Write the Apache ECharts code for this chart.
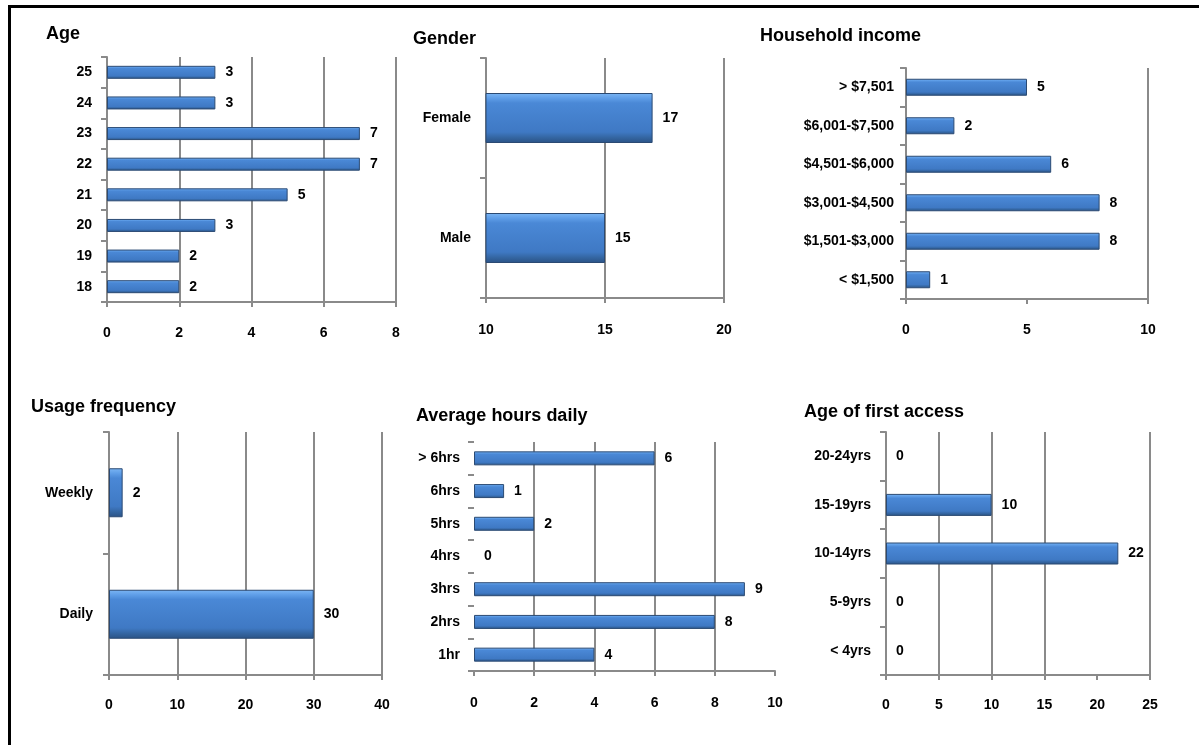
<!DOCTYPE html>
<html>
<head>
<meta charset="utf-8">
<script src="https://cdn.jsdelivr.net/npm/echarts@6/dist/echarts.min.js"></script>
<style>
html,body{margin:0;padding:0;background:#fff;}
#chart{position:absolute;left:0;top:0;width:1199px;height:745px;}
#frame{position:absolute;left:8px;top:5px;width:1191px;height:740px;border-top:3px solid #000;border-left:3px solid #000;box-sizing:border-box;pointer-events:none;}
</style>
</head>
<body>
<div id="chart"></div>
<div id="frame"></div>
<script>
// ---- data ----
const titles = ['Age', 'Gender', 'Household income', 'Usage frequency', 'Average hours daily', 'Age of first access'];

const ageCats = ['18', '19', '20', '21', '22', '23', '24', '25'];
const ageVals = [2, 2, 3, 5, 7, 7, 3, 3];
const ageTicks = [0, 8, 2];          // min, max, interval
const ageGrid = [2, 4, 6, 8];

const genderCats = ['Male', 'Female'];
const genderVals = [15, 17];
const genderTicks = [10, 20, 5];
const genderGrid = [15, 20];

const incomeCats = ['< $1,500', '$1,501-$3,000', '$3,001-$4,500', '$4,501-$6,000', '$6,001-$7,500', '> $7,501'];
const incomeVals = [1, 8, 8, 6, 2, 5];
const incomeTicks = [0, 10, 5];
const incomeGrid = [10];

const usageCats = ['Daily', 'Weekly'];
const usageVals = [30, 2];
const usageTicks = [0, 40, 10];
const usageGrid = [10, 20, 30, 40];

const hoursCats = ['1hr', '2hrs', '3hrs', '4hrs', '5hrs', '6hrs', '> 6hrs'];
const hoursVals = [4, 8, 9, 0, 2, 1, 6];
const hoursTicks = [0, 10, 2];
const hoursGrid = [2, 4, 6, 8];

const firstCats = ['< 4yrs', '5-9yrs', '10-14yrs', '15-19yrs', '20-24yrs'];
const firstVals = [0, 0, 22, 10, 0];
const firstTicks = [0, 25, 5];
const firstGrid = [5, 10, 15, 25];

// ---- layout (positions / styles) ----
const layouts = [
  {left:107, top:57, width:289, height:245, barW:13, xMargin:24, yMargin:15, tx:41, ty:20, showYLine:true},
  {left:486, top:58, width:238, height:240, barW:50, xMargin:25, yMargin:15, tx:408, ty:25, showYLine:true},
  {left:906, top:68, width:242, height:231, barW:17, xMargin:24, yMargin:12, tx:755, ty:22, showYLine:true},
  {left:109, top:432, width:273, height:243, barW:49, xMargin:23, yMargin:16, tx:26, ty:393, showYLine:true},
  {left:474, top:442, width:301, height:229, barW:14, xMargin:25, yMargin:14, tx:411, ty:402, showYLine:false},
  {left:886, top:432, width:264, height:243, barW:22, xMargin:23, yMargin:15, tx:799, ty:398, showYLine:true}
];

const panels = [
  [ageCats, ageVals, ageTicks, ageGrid],
  [genderCats, genderVals, genderTicks, genderGrid],
  [incomeCats, incomeVals, incomeTicks, incomeGrid],
  [usageCats, usageVals, usageTicks, usageGrid],
  [hoursCats, hoursVals, hoursTicks, hoursGrid],
  [firstCats, firstVals, firstTicks, firstGrid]
];

const FONT = 'Liberation Sans';
const GRAY = '#8a8a8a';
const barColor = {
  type: 'linear', x: 0, y: 0, x2: 0, y2: 1,
  colorStops: [
    {offset: 0, color: '#7cb6f4'},
    {offset: 0.1, color: '#609fe8'},
    {offset: 0.2, color: '#4a88d6'},
    {offset: 0.78, color: '#3f79c4'},
    {offset: 0.9, color: '#33649f'},
    {offset: 1, color: '#2b5285'}
  ]
};

const option = {
  animation: false,
  backgroundColor: '#fff',
  title: [], grid: [], xAxis: [], yAxis: [], series: []
};

panels.forEach((p, i) => {
  const [cats, vals, ticks, gl] = p;
  const L = layouts[i];
  option.title.push({
    text: titles[i], left: L.tx, top: L.ty,
    textStyle: {fontFamily: FONT, fontWeight: 'bold', fontSize: 18, color: '#000'}
  });
  option.grid.push({left: L.left, top: L.top, width: L.width, height: L.height, containLabel: false});
  option.xAxis.push({
    type: 'value', gridIndex: i, min: ticks[0], max: ticks[1], interval: ticks[2],
    axisLine: {show: true, lineStyle: {color: GRAY, width: 2}},
    axisTick: {show: true, length: 5, lineStyle: {color: GRAY, width: 2}},
    splitLine: {show: false},
    axisLabel: {margin: L.xMargin, fontFamily: FONT, fontWeight: 'bold', fontSize: 14, color: '#000'}
  });
  option.yAxis.push({
    type: 'category', gridIndex: i, data: cats,
    axisLine: {show: L.showYLine, onZero: false, lineStyle: {color: GRAY, width: 2}},
    axisTick: {show: true, length: 6, lineStyle: {color: GRAY, width: 2}},
    axisLabel: {margin: L.yMargin, fontFamily: FONT, fontWeight: 'bold', fontSize: 14, color: '#000'}
  });
  option.series.push({
    type: 'bar', xAxisIndex: i, yAxisIndex: i,
    data: vals.map(v => v === 0 ? {value: v, itemStyle: {borderWidth: 0, borderColor: 'rgba(0,0,0,0)'}} : v),
    barWidth: L.barW,
    clip: true,
    itemStyle: {color: barColor, borderColor: '#2b4a73', borderWidth: 1},
    label: {show: true, position: 'right', distance: 10, fontFamily: FONT, fontWeight: 'bold', fontSize: 14, color: '#000'},
    markLine: {
      silent: true, symbol: 'none', z: 1, animation: false,
      label: {show: false},
      lineStyle: {color: GRAY, width: 2, type: 'solid'},
      data: gl.map(v => ({xAxis: v}))
    }
  });
});

const chart = echarts.init(document.getElementById('chart'), null, {renderer: 'canvas'});
chart.setOption(option);
</script>
</body>
</html>
